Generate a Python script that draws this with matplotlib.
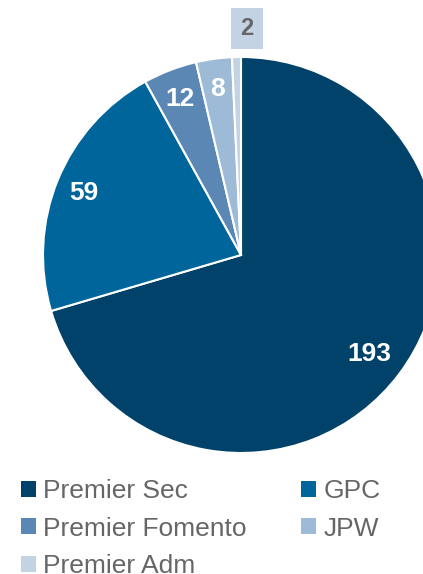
import matplotlib
matplotlib.use("Agg")
import matplotlib.pyplot as plt
from matplotlib.patches import Patch
import numpy as np

plt.rcParams['font.family'] = ['Liberation Sans', 'DejaVu Sans']

# Data
labels = ['Premier Sec', 'GPC', 'Premier Fomento', 'JPW', 'Premier Adm']
values = [193, 59, 12, 8, 2]
colors = ['#00426A', '#00659A', '#5B87B4', '#9DBBD6', '#C3D3E3']

W, H = 423, 574
fig = plt.figure(figsize=(W / 100, H / 100), dpi=100)

# pie centre and radius in pixels
cx, cy, r = 241, 255, 198
ax = fig.add_axes([(cx - r) / W, (H - cy - r) / H, 2 * r / W, 2 * r / H])

wedges, _ = ax.pie(values, colors=colors, startangle=90, counterclock=False,
                   radius=1, wedgeprops=dict(edgecolor='white', linewidth=1.5))
ax.set_xlim(-1, 1)
ax.set_ylim(-1, 1)
ax.set_aspect('equal')
ax.axis('off')

for w, v in zip(wedges, values):
    ang = np.deg2rad((w.theta1 + w.theta2) / 2)
    if v == min(values):
        # tiny slice: value boxed above the pie
        ax.text(0.03, 1.145, str(v), ha='center', va='center',
                fontsize=17, fontweight='bold', color='#666666',
                bbox=dict(boxstyle='square,pad=0.38', fc=colors[-1], ec='none'))
    else:
        d = 0.81 if v == max(values) else 0.86
        ax.text(np.cos(ang) * d, np.sin(ang) * d - 0.015, str(v), ha='center', va='center',
                fontsize=19, fontweight='bold', color='white')

# legend filled row by row
order = [0, 2, 4, 1, 3]
handles = [Patch(facecolor=colors[i], edgecolor='none') for i in order]
fig.legend(handles, [labels[i] for i in order], loc='upper left',
           bbox_to_anchor=(21 / W, 1 - 479 / H),
           ncol=2, frameon=False, fontsize=19, labelcolor='#666666',
           handlelength=0.55, handleheight=0.55, handletextpad=0.3,
           columnspacing=2.06, labelspacing=0.52, borderaxespad=0, borderpad=0)

fig.savefig('out.png', dpi=100)
